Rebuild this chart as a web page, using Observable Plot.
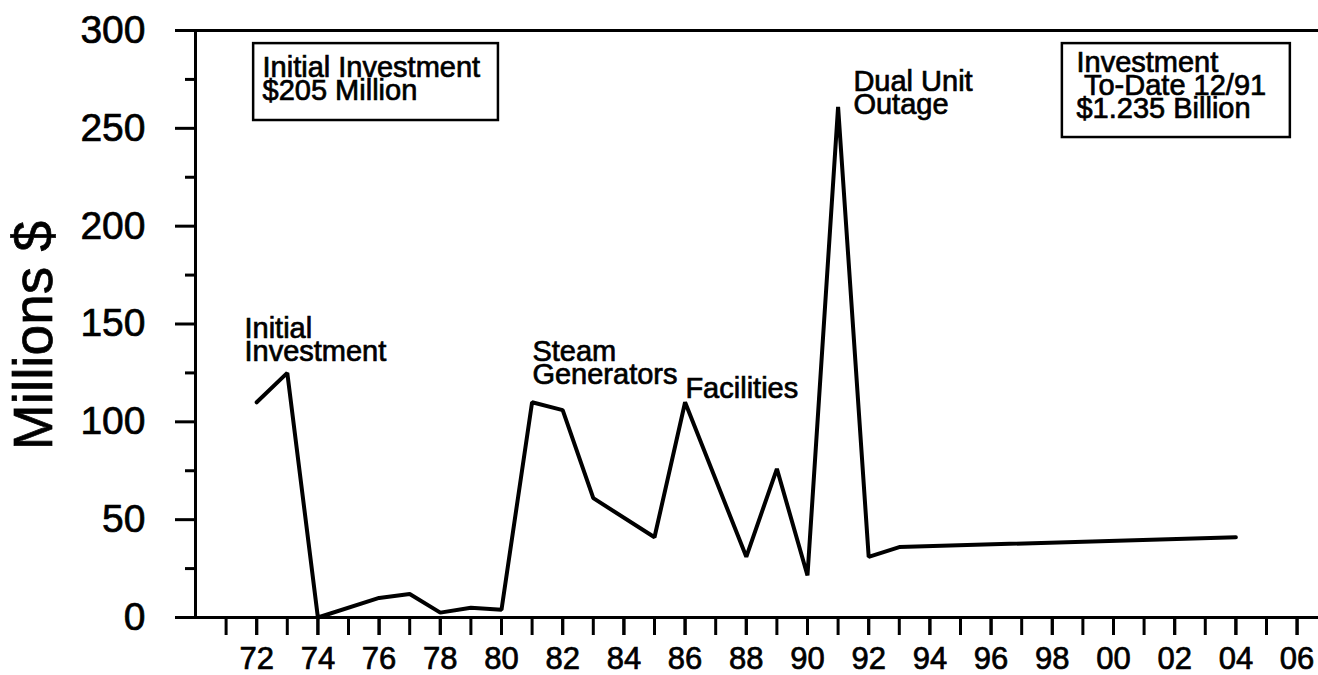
<!DOCTYPE html>
<html>
<head>
<meta charset="utf-8">
<script src="https://cdn.jsdelivr.net/npm/d3@7"></script>
<script src="https://cdn.jsdelivr.net/npm/@observablehq/plot@0.6"></script>
<style>
  html, body { margin: 0; padding: 0; background: #fff; }
  #chart svg { display: block; }
</style>
</head>
<body>
<div id="chart"></div>
<script>
// ---- data ----
const years  = [1972, 1973, 1974, 1976, 1977, 1978, 1979, 1980, 1981, 1982, 1983, 1985, 1986, 1988, 1989, 1990, 1991, 1992, 1993, 2004];
const values = [110,  125,  0,    10,   12,   2.5,  5,    4,    110,  106,  61,   41,   110,  31,   76,   21.5, 261,  31,   36,   41];

const yMajorTicks = [0, 50, 100, 150, 200, 250, 300];
const yMinorTicks = [25, 75, 125, 175, 225, 275];
const xTicks      = d3.range(1971, 2007);
const xLabelTicks = d3.range(1972, 2007, 2);
const yTitle = "Millions $";

const boxedTexts = [
  "Initial Investment\n$205 Million",
  "Investment\n To-Date 12/91\n$1.235 Billion"
];
const pointTexts = [
  "Initial\nInvestment",
  "Steam\nGenerators",
  "Facilities",
  "Dual Unit\nOutage"
];

// ---- layout (data-unit anchors for annotations) ----
const boxes = [
  {x1: 1971.9, x2: 1979.9, y1: 254, y2: 293.3},
  {x1: 1998.33, x2: 2005.78, y1: 245.3, y2: 293.3}
];
const boxTextPos = [
  {x: 1972.19, y: 284.6},
  {x: 1998.79, y: 287.2}
];
const pointTextPos = [
  {x: 1971.6, y: 151.3},
  {x: 1981.01, y: 139.5},
  {x: 1986.01, y: 120.6},
  {x: 1991.5, y: 277.5}
];

const data = years.map((yr, i) => ({year: yr, value: values[i]}));
const notes = [
  ...boxedTexts.map((t, i) => ({text: t, ...boxTextPos[i]})),
  ...pointTexts.map((t, i) => ({text: t, ...pointTextPos[i]}))
];

const W = 1318, H = 675;
const font = "'Liberation Sans', Arial, Helvetica, sans-serif";

const chart = Plot.plot({
  width: W,
  height: H,
  marginLeft: 195,
  marginRight: 0,
  marginTop: 30,
  marginBottom: H - 617,
  x: {domain: [1970, 2006.7], axis: null},
  y: {domain: [0, 300], axis: null, label: null},
  style: {fontFamily: font, color: "#000", background: "#fff", overflow: "visible"},
  marks: [
    Plot.axisY(yMajorTicks, {anchor: "left", tickSize: 20, tickPadding: 30, fontSize: 39, strokeWidth: 3, label: null, tickFormat: d => String(d)}),
    Plot.axisY(yMinorTicks, {anchor: "left", tickSize: 10, strokeWidth: 3, label: null, tickFormat: () => ""}),
    Plot.axisX(xTicks, {anchor: "bottom", tickSize: 18, strokeWidth: 3, label: null, tickFormat: () => ""}),
    Plot.axisX(xLabelTicks, {anchor: "bottom", tickSize: 18, tickPadding: 11, fontSize: 31, strokeWidth: 3, label: null,
      tickFormat: d => String(d % 100).padStart(2, "0")}),
    Plot.ruleX([1970], {strokeWidth: 3}),
    Plot.ruleY([0], {strokeWidth: 3}),
    Plot.ruleY([300], {strokeWidth: 3}),
    Plot.line(data, {x: "year", y: "value", stroke: "#000", strokeWidth: 4, strokeLinejoin: "miter"}),
    Plot.rect(boxes, {x1: "x1", x2: "x2", y1: "y1", y2: "y2", fill: "none", stroke: "#000", strokeWidth: 2.5}),
    Plot.text(notes, {x: "x", y: "y", text: "text", textAnchor: "start", lineAnchor: "top", fontSize: 29, lineHeight: 0.8, fill: "#000"}),
    Plot.text([yTitle], {frameAnchor: "left", textAnchor: "middle", lineAnchor: "middle", rotate: -90, dx: -161, dy: 11.5, fontSize: 55, fill: "#000"})
  ]
});

// slightly heavier text, like the scanned original
d3.select(chart).selectAll("text").attr("stroke", "#000").attr("stroke-width", 0.7);

document.getElementById("chart").appendChild(chart);
</script>
</body>
</html>
